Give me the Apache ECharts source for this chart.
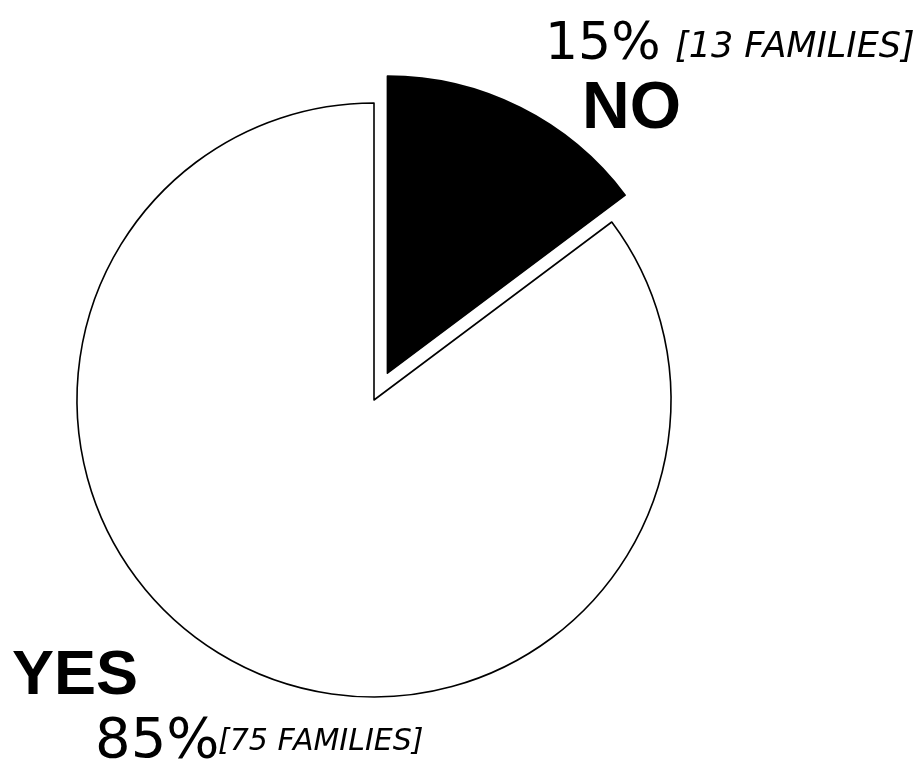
<!DOCTYPE html>
<html>
<head>
<meta charset="utf-8">
<script src="https://cdn.jsdelivr.net/npm/echarts@6/dist/echarts.min.js"></script>
<style>
  html, body { margin: 0; padding: 0; background: #fff; }
  #chart { width: 921px; height: 768px; }
</style>
</head>
<body>
<div id="chart"></div>
<script>
// Answers to the question, pie starts at 12 o'clock going clockwise
var categories = ['NO', 'YES'];
var families = [13, 75];
var percentLabels = ['15%', '85%'];
var familyLabels = ['[13 FAMILIES]', '[75 FAMILIES]'];
var sliceColors = ['#000', '#fff'];

var myChart = echarts.init(document.getElementById('chart'));

var pieData = categories.map(function(name, i) {
  return {
    name: name,
    value: families[i],
    selected: name === 'NO',
    itemStyle: { color: sliceColors[i], borderColor: '#000', borderWidth: 1.6 }
  };
});

// label blocks: name, percent and family-count positions
var labelPos = {
  NO:  { name: [582, 110], nameSize: 66, pct: [545, 45], fam: [675, 48], pctSize: 52, famSize: 35 },
  YES: { name: [12, 677], nameSize: 63, pct: [95, 742], fam: [218, 742], pctSize: 56, famSize: 30 }
};

var texts = [];
categories.forEach(function(name, i) {
  var p = labelPos[name];
  texts.push({
    type: 'text', silent: true,
    style: { text: name, x: p.name[0], y: p.name[1], fill: '#000',
      font: 'bold ' + p.nameSize + 'px "Liberation Sans", Arial, sans-serif', textVerticalAlign: 'middle' }
  });
  texts.push({
    type: 'text', silent: true,
    style: { text: percentLabels[i], x: p.pct[0], y: p.pct[1], fill: '#000',
      font: p.pctSize + 'px "DejaVu Sans", sans-serif', textVerticalAlign: 'middle' }
  });
  texts.push({
    type: 'text', silent: true,
    style: { text: familyLabels[i], x: p.fam[0], y: p.fam[1], fill: '#000',
      font: 'italic ' + p.famSize + 'px "DejaVu Sans", sans-serif', textVerticalAlign: 'middle' }
  });
});

var option = {
  backgroundColor: '#fff',
  animation: false,
  graphic: texts,
  series: [
    {
      type: 'pie',
      center: [374, 400],
      radius: 297,
      startAngle: 90,
      clockwise: true,
      selectedMode: 'single',
      selectedOffset: 30,
      silent: true,
      label: { show: false },
      labelLine: { show: false },
      emphasis: { scale: false },
      data: pieData
    }
  ]
};

myChart.setOption(option);
</script>
</body>
</html>
